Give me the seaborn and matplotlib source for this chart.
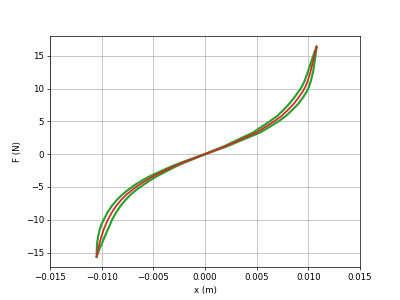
import matplotlib
matplotlib.use("Agg")
import matplotlib.pyplot as plt
import seaborn as sns
import pandas as pd

# Force levels (N) shared by the fitted curve and the measured loop
F_levels = [-15.6, -14.9, -14.2, -13.55, -12.45, -11.5, -10.7, -10.0, -8.84, -7.9,
            -6.95, -6.17, -5.39, -4.71, -4.01, -3.37, -2.6, -1.85, -1.2, -0.6, 0.0,
            0.6, 1.2, 1.9, 2.6, 3.3, 4.1, 5.0, 5.8, 6.7, 7.6,
            8.5, 9.4, 10.2, 11.2, 12.6, 13.8, 15.1, 16.4]

# Red (fitted) curve displacement (m)
red_x = [-0.01048, -0.0104, -0.0103, -0.0102, -0.0100, -0.0098, -0.0096, -0.0094, -0.0090, -0.0086,
         -0.0081, -0.0076, -0.0070, -0.0064, -0.0057, -0.0050, -0.0040, -0.0030, -0.0020, -0.0010, 0.0,
         0.0010, 0.0020, 0.0030, 0.0040, 0.0050, 0.0058, 0.0067, 0.0074, 0.0080, 0.00855,
         0.0090, 0.0094, 0.0097, 0.00995, 0.01022, 0.0104, 0.0106, 0.0108]

# Green measured loop: loading branch (min -> max)
up_x = [-0.01048, -0.01048, -0.01046, -0.01044, -0.01033, -0.01019, -0.01002, -0.00980, -0.00942, -0.00902,
        -0.00852, -0.00800, -0.00740, -0.00680, -0.00608, -0.00534, -0.00428, -0.00321, -0.00215, -0.00110, -0.00005,
        0.00090, 0.00185, 0.00279, 0.00372, 0.00466, 0.00541, 0.00628, 0.00698, 0.00758, 0.00811,
        0.00858, 0.00900, 0.00935, 0.00965, 0.00997, 0.01022, 0.01050, 0.01080]
# unloading branch (same force levels)
lo_x = [-0.01048, -0.01032, -0.01014, -0.00996, -0.00967, -0.00941, -0.00918, -0.00900, -0.00858, -0.00818,
        -0.00768, -0.00720, -0.00660, -0.00600, -0.00532, -0.00466, -0.00372, -0.00279, -0.00185, -0.00090, 0.00005,
        0.00110, 0.00215, 0.00321, 0.00428, 0.00534, 0.00619, 0.00712, 0.00782, 0.00842, 0.00899,
        0.00942, 0.00980, 0.01005, 0.01025, 0.01047, 0.01058, 0.01070, 0.01080]

green = pd.DataFrame({"x": up_x + lo_x[::-1], "F": F_levels + F_levels[::-1]})
red = pd.DataFrame({"x": red_x, "F": F_levels})

fig, ax = plt.subplots(figsize=(6.4, 4.8), dpi=62.5)
sns.lineplot(data=green, x="x", y="F", sort=False, estimator=None, color="tab:green",
             lw=2.5, ax=ax)
sns.lineplot(data=red, x="x", y="F", sort=False, estimator=None, color="tab:red",
             lw=2.0, ax=ax)
ax.set_xlim(-0.015, 0.015)
ax.grid(True)
ax.set_xlabel("x (m)")
ax.set_ylabel("F (N)")
fig.savefig("out.png", dpi=62.5)
